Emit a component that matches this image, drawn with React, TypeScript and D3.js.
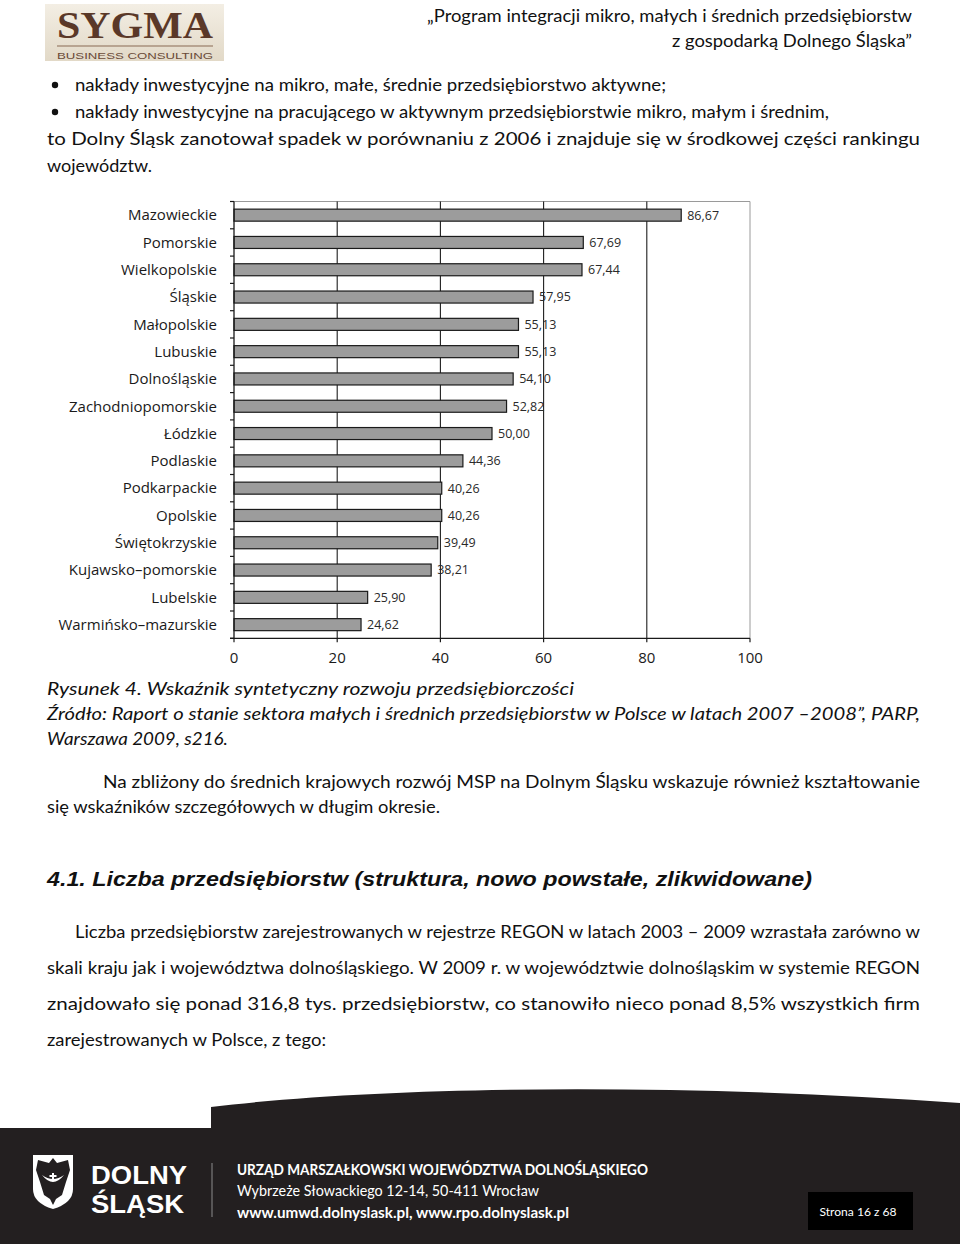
import React from "react";
import * as d3 from "d3";

const categories = [
  "Mazowieckie", "Pomorskie", "Wielkopolskie", "Śląskie", "Małopolskie", "Lubuskie",
  "Dolnośląskie", "Zachodniopomorskie", "Łódzkie", "Podlaskie", "Podkarpackie", "Opolskie",
  "Świętokrzyskie", "Kujawsko–pomorskie", "Lubelskie", "Warmińsko–mazurskie",
];
const values = [86.67, 67.69, 67.44, 57.95, 55.13, 55.13, 54.1, 52.82, 50.0, 44.36, 40.26, 40.26, 39.49, 38.21, 25.9, 24.62];
const xTicks = [0, 20, 40, 60, 80, 100];
const gridTicks = [20, 40, 60, 80];

const BODY = "Lato, 'Open Sans', sans-serif";
const CHARTF = "'Open Sans', 'Noto Sans', sans-serif";

type Line = { t: string; x: number; y: number; w?: number; italic?: boolean; size?: number };

const topLines: Line[] = [
  { t: "nakłady inwestycyjne na mikro, małe, średnie przedsiębiorstwo aktywne;", x: 75, y: 91, w: 591 },
  { t: "nakłady inwestycyjne na pracującego w aktywnym przedsiębiorstwie mikro, małym i średnim,", x: 75, y: 118, w: 754 },
  { t: "to Dolny Śląsk zanotował spadek w porównaniu z 2006 i znajduje się w środkowej części rankingu", x: 47, y: 145, w: 873 },
  { t: "województw.", x: 47, y: 172, w: 105 },
];
const captionLines: Line[] = [
  { t: "Rysunek 4. Wskaźnik syntetyczny rozwoju przedsiębiorczości", x: 47, y: 695, w: 527, italic: true },
  { t: "Źródło: Raport o stanie sektora małych i średnich przedsiębiorstw w Polsce w latach 2007 –2008”, PARP,", x: 47, y: 720, w: 873, italic: true },
  { t: "Warszawa 2009, s216.", x: 47, y: 745, w: 181, italic: true },
  { t: "Na zbliżony do średnich krajowych rozwój MSP na Dolnym Śląsku wskazuje również kształtowanie", x: 103, y: 788, w: 817 },
  { t: "się wskaźników szczegółowych w długim okresie.", x: 47, y: 813, w: 393 },
];
const paraLines: Line[] = [
  { t: "Liczba przedsiębiorstw zarejestrowanych w rejestrze REGON w latach 2003 – 2009 wzrastała zarówno w", x: 75, y: 938, w: 845 },
  { t: "skali kraju jak i województwa dolnośląskiego. W 2009 r. w województwie dolnośląskim w systemie REGON", x: 47, y: 974, w: 873 },
  { t: "znajdowało się ponad 316,8 tys. przedsiębiorstw, co stanowiło nieco ponad 8,5% wszystkich firm", x: 47, y: 1010, w: 873 },
  { t: "zarejestrowanych w Polsce, z tego:", x: 47, y: 1046, w: 279 },
];

function TextLine({ l }: { l: Line }) {
  return (
    <text
      x={l.x}
      y={l.y}
      fontFamily={BODY}
      fontSize={l.size ?? 17}
      fontStyle={l.italic ? "italic" : "normal"}
      fill="#111"
      textLength={l.w}
      lengthAdjust="spacingAndGlyphs"
    >
      {l.t}
    </text>
  );
}

function Chart() {
  const x = d3.scaleLinear().domain([0, 100]).range([234, 750]);
  const y = d3.scaleBand<string>().domain(categories).range([201.5, 638.3]).paddingInner(0.56).paddingOuter(0.28);
  const step = y.step();
  const [r0, r1] = y.range();
  const fmt = (v: number) => d3.format(".2f")(v).replace(".", ",");
  const boundaries = d3.range(categories.length + 1).map((i) => r0 + i * step);
  return (
    <g>
      <line x1={x(0)} x2={x(100)} y1={r0} y2={r0} stroke="#9a9a9a" strokeWidth={1} />
      <line x1={x(100)} x2={x(100)} y1={r0} y2={r1} stroke="#9a9a9a" strokeWidth={1} />
      {gridTicks.map((t) => (
        <line key={t} x1={x(t)} x2={x(t)} y1={r0} y2={r1} stroke="#1e1e1e" strokeWidth={1.1} />
      ))}
      {categories.map((c, i) => {
        const yy = y(c)!;
        return (
          <g key={c}>
            <rect x={x(0)} y={yy} width={x(values[i]) - x(0)} height={y.bandwidth()} fill="#9c9c9c" stroke="#1a1a1a" strokeWidth={1.2} />
            <text x={x(values[i]) + 6} y={yy + y.bandwidth() / 2} dy="0.35em" fontFamily={CHARTF} fontSize={12.5} fill="#2a2a2a">
              {fmt(values[i])}
            </text>
            <text x={217} y={yy + y.bandwidth() / 2} dy="0.35em" textAnchor="end" fontFamily={CHARTF} fontSize={15} fill="#1a1a1a">
              {c}
            </text>
          </g>
        );
      })}
      <line x1={x(0)} x2={x(0)} y1={r0} y2={r1} stroke="#1a1a1a" strokeWidth={1.3} />
      {boundaries.map((b, i) => (
        <line key={i} x1={x(0) - 4} x2={x(0)} y1={b} y2={b} stroke="#1a1a1a" strokeWidth={1.2} />
      ))}
      <line x1={x(0) - 4} x2={x(100)} y1={r1} y2={r1} stroke="#1a1a1a" strokeWidth={1.3} />
      {xTicks.map((t) => (
        <g key={t}>
          <line x1={x(t)} x2={x(t)} y1={r1} y2={r1 + 4} stroke="#1a1a1a" strokeWidth={1.2} />
          <text x={x(t)} y={r1 + 19} dy="0.35em" textAnchor="middle" fontFamily={CHARTF} fontSize={15} fill="#1a1a1a">
            {t}
          </text>
        </g>
      ))}
    </g>
  );
}

export default function App() {
  return (
    <svg
      width={960}
      height={1244}
      viewBox="0 0 960 1244"
      style={{ position: "absolute", left: 0, top: 0, display: "block", background: "#fff" }}
    >
      <defs>
        <linearGradient id="logoBg" x1="0" y1="0" x2="0" y2="1">
          <stop offset="0" stopColor="#f3eee4" />
          <stop offset="1" stopColor="#e2d9c7" />
        </linearGradient>
      </defs>
      <rect x={0} y={0} width={960} height={1244} fill="#fff" />

      {/* Header logo */}
      <rect x={45} y={4} width={179} height={57} fill="url(#logoBg)" />
      <text x={57} y={38} fontFamily="'Liberation Serif', serif" fontWeight="bold" fontSize={38} fill="#5a3828" textLength={156} lengthAdjust="spacingAndGlyphs">
        SYGMA
      </text>
      <line x1={57} x2={213} y1={46} y2={46} stroke="#8a6a55" strokeWidth={1.2} />
      <text x={57} y={59} fontFamily="'Liberation Sans', sans-serif" fontSize={9} fill="#6a4a38" textLength={156} lengthAdjust="spacingAndGlyphs">
        BUSINESS CONSULTING
      </text>

      {/* Header title */}
      <text x={912} y={22} textAnchor="end" fontFamily={BODY} fontSize={17} fill="#111" textLength={485} lengthAdjust="spacingAndGlyphs">
        „Program integracji mikro, małych i średnich przedsiębiorstw
      </text>
      <text x={912} y={47} textAnchor="end" fontFamily={BODY} fontSize={17} fill="#111" textLength={240} lengthAdjust="spacingAndGlyphs">
        z gospodarką Dolnego Śląska”
      </text>

      <circle cx={55} cy={85} r={3.2} fill="#111" />
      <circle cx={55} cy={112} r={3.2} fill="#111" />
      {topLines.map((l, i) => (
        <TextLine key={i} l={l} />
      ))}

      <Chart />

      {captionLines.map((l, i) => (
        <TextLine key={i} l={l} />
      ))}

      <text x={47} y={886} fontFamily="'Liberation Sans', Arial, sans-serif" fontWeight="bold" fontStyle="italic" fontSize={21} fill="#111" textLength={765} lengthAdjust="spacingAndGlyphs">
        4.1. Liczba przedsiębiorstw (struktura, nowo powstałe, zlikwidowane)
      </text>

      {paraLines.map((l, i) => (
        <TextLine key={i} l={l} />
      ))}

      {/* Footer */}
      <path d="M0,1128 L211,1128 L211,1107 C400,1084 700,1084 960,1103 L960,1244 L0,1244 Z" fill="#231f20" />
      <path d="M33,1155 L73,1155 L73,1189 Q73,1203 53,1209 Q33,1203 33,1189 Z" fill="#fff" />
      <path d="M53,1158 L57,1163 L68,1160 L70,1170 L66,1182 L62,1195 L56,1199 L53,1205 L50,1199 L44,1195 L40,1182 L36,1170 L38,1160 L49,1163 Z" fill="#231f20" />
      <path d="M42,1175 Q53,1189 64,1175 Q53,1183 42,1175 Z" fill="#fff" />
      <rect x={52} y={1173} width={2} height={7} fill="#fff" />
      <rect x={49.5} y={1175} width={7} height={2} fill="#fff" />
      <text x={91} y={1184} fontFamily="'Liberation Sans', Arial, sans-serif" fontWeight="bold" fontSize={26} fill="#fff" textLength={96} lengthAdjust="spacingAndGlyphs">
        DOLNY
      </text>
      <text x={91} y={1213} fontFamily="'Liberation Sans', Arial, sans-serif" fontWeight="bold" fontSize={26} fill="#fff" textLength={93} lengthAdjust="spacingAndGlyphs">
        ŚLĄSK
      </text>
      <line x1={212} x2={212} y1={1163} y2={1217} stroke="#8c8c8c" strokeWidth={1} />
      <text x={237} y={1175} fontFamily={BODY} fontWeight="bold" fontSize={15} fill="#fff" textLength={411} lengthAdjust="spacingAndGlyphs">
        URZĄD MARSZAŁKOWSKI WOJEWÓDZTWA DOLNOŚLĄSKIEGO
      </text>
      <text x={237} y={1196} fontFamily={BODY} fontSize={15} fill="#fff" textLength={302} lengthAdjust="spacingAndGlyphs">
        Wybrzeże Słowackiego 12-14, 50-411 Wrocław
      </text>
      <text x={237} y={1218} fontFamily={BODY} fontWeight="bold" fontSize={15} fill="#fff" textLength={332} lengthAdjust="spacingAndGlyphs">
        www.umwd.dolnyslask.pl, www.rpo.dolnyslask.pl
      </text>
      <rect x={808} y={1192} width={105} height={38} fill="#000" />
      <text x={858} y={1212} dy="0.3em" textAnchor="middle" fontFamily={BODY} fontSize={12} fill="#fff" textLength={77} lengthAdjust="spacingAndGlyphs">
        Strona 16 z 68
      </text>
    </svg>
  );
}
